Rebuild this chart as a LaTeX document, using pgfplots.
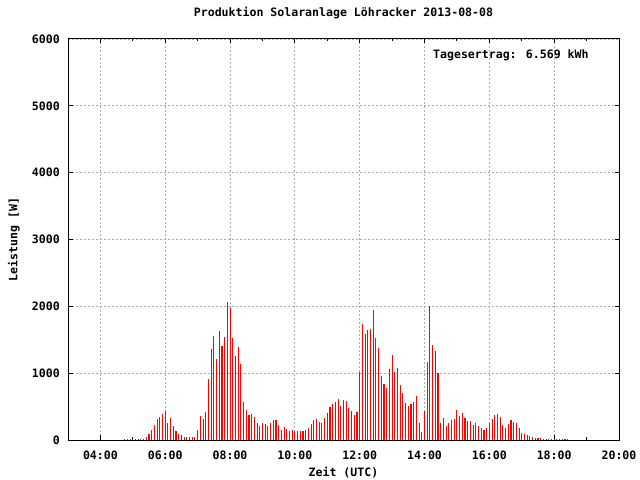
\documentclass[border=0pt]{standalone}
\usepackage{pgfplots}
\pgfplotsset{compat=1.18}
\usepackage{pgfplotstable}
\usepackage{fontspec}
\setmainfont{DejaVu Sans Mono}
\newcommand{\gfont}{\fontsize{11.6}{13}\selectfont\bfseries}
\pgfplotstableread{
t v
285 15
290 15
295 15
300 15
305 15
310 15
315 15
320 15
325 50
330 90
335 150
340 225
345 320
350 345
355 390
360 435
365 255
370 330
375 210
380 135
385 90
390 75
395 45
400 45
405 45
410 45
415 45
420 150
425 360
430 315
435 420
440 915
445 1365
450 1560
455 1215
460 1635
465 1410
470 1545
475 2070
480 1980
485 1530
490 1260
495 1395
500 1140
505 570
510 450
515 375
520 390
525 345
530 255
535 210
540 255
545 240
550 210
555 255
560 300
565 300
570 225
575 150
580 195
585 165
590 135
595 150
600 135
605 135
610 135
615 135
620 150
625 180
630 240
635 300
640 315
645 270
650 255
655 330
660 405
665 495
670 540
675 570
680 615
685 510
690 600
695 585
700 480
705 435
710 375
715 420
720 1020
725 1740
730 1590
735 1650
740 1665
745 1950
750 1530
755 1380
760 960
765 840
770 780
775 1065
780 1275
785 1020
790 1080
795 825
800 705
805 555
810 510
815 540
820 570
825 660
830 255
835 120
840 435
845 1170
850 2010
855 1425
860 1335
865 1005
870 255
875 330
880 210
885 255
890 300
895 315
900 450
905 360
910 405
915 330
920 285
925 285
930 225
935 255
940 210
945 180
950 150
955 180
960 255
965 315
970 375
975 390
980 345
985 225
990 180
995 240
1000 300
1005 270
1010 255
1015 180
1020 105
1025 90
1030 75
1035 60
1040 45
1045 30
1050 30
1055 30
1060 15
1065 15
1070 15
1075 15
1080 15
1085 15
1090 15
1095 15
1100 15
1105 15
}\power
\begin{document}
\begin{tikzpicture}
\path[use as bounding box] (0,0) rectangle (640bp,480bp);
\begin{axis}[
  at={(68bp,40bp)}, anchor=south west,
  scale only axis, width=551bp, height=401bp,
  xmin=180, xmax=1200, ymin=0, ymax=6000,
  xtick={240,360,480,600,720,840,960,1080,1200},
  xticklabels={04:00,06:00,08:00,10:00,12:00,14:00,16:00,18:00,20:00},
  minor xtick={180,300,420,540,660,780,900,1020,1140},
  ytick={0,1000,2000,3000,4000,5000,6000},
  yticklabels={0,1000,2000,3000,4000,5000,6000},
  tick align=inside, tick pos=both,
  major tick length=4.5bp, minor tick length=2.5bp,
  tick style={black, line width=1bp},
  axis line style={black, line width=1bp},
  grid=major,
  major grid style={color=black!32, line width=0.9bp, dash pattern=on 2bp off 2bp},
  ticklabel style={font=\gfont},
  xticklabel style={anchor=center, yshift=-15bp},
  yticklabel style={anchor=east, inner sep=0pt, xshift=-8bp},
  xlabel={Zeit (UTC)}, ylabel={Leistung [W]},
  label style={font=\gfont},
  xlabel style={at={(axis description cs:0.5,-0.0823)}, anchor=center},
  ylabel style={at={(axis description cs:-0.098,0.5)}, anchor=center},
  title={Produktion Solaranlage Löhracker 2013-08-08},
  title style={font=\gfont, at={(axis description cs:0.5,1.05)}, anchor=center},
  clip=false,
]
\addplot[ycomb, color=red, line width=1.1bp, mark=none] table[x=t, y=v] {\power};
\node[anchor=west, font=\gfont, inner sep=0pt] at (rel axis cs:0.6624,0.96) {Tagesertrag: 6.569 kWh};
\end{axis}
\end{tikzpicture}
\end{document}
